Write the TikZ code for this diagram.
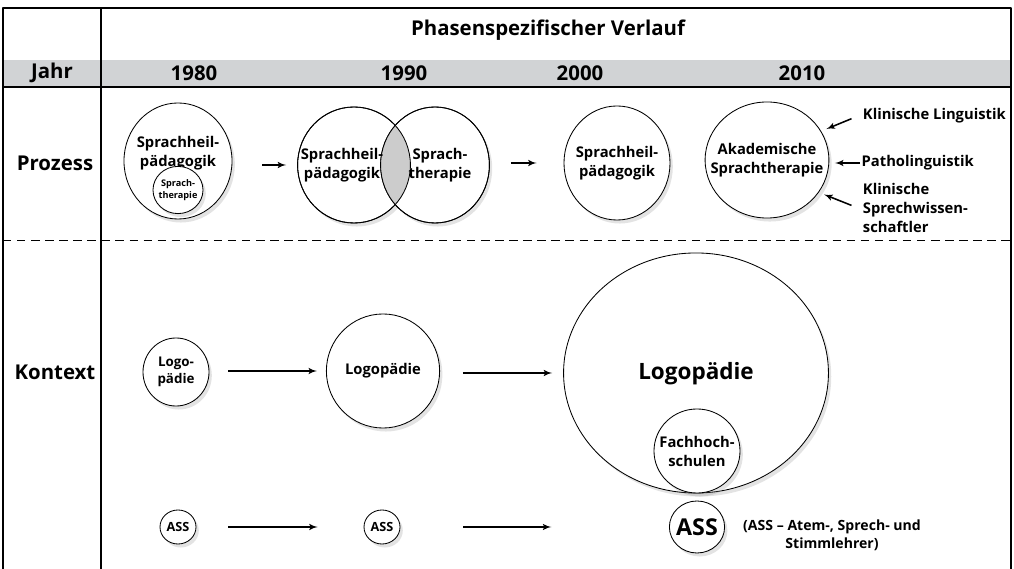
\documentclass[tikz,border=0pt]{standalone}
\usepackage{fontspec}
\setmainfont{Open Sans}
\usepackage{tikz}
\usetikzlibrary{arrows, positioning, shapes, shadows}
\definecolor{bandgray}{rgb}{0.82, 0.827, 0.835}
\definecolor{lensgray}{rgb}{0.8, 0.8, 0.8}

\begin{document}
\begin{tikzpicture}[>=latex', x=0.025cm, y=-0.025cm, line join=bevel,
        blob/.style={draw, ellipse, fill=white, inner sep=-9pt, align=center, line width=.6pt,
            drop shadow={opacity=.22, shadow xshift=2pt, shadow yshift=-2.5pt}},
        head/.style={font=\bfseries\fontsize{14.5}{16}\selectfont},
        txt/.style={font=\bfseries\fontsize{10.5}{13.5}\selectfont},
        arr/.style={->, line width=1.1pt}]
    \useasboundingbox (0,0) rectangle (1014,569);
    % frame and table head
    \fill[bandgray] (3,60) rectangle (1011,87);
    \draw[line width=.8pt] (3,569) -- (3,8) -- (1011,8) -- (1011,569);
    \draw[line width=1pt] (101,8) -- (101,569);
    \draw[line width=1.6pt] (3,87) -- (1011,87);
    \draw[dashed, dash pattern=on 6pt off 4pt, line width=.7pt] (3,240) -- (1011,240);
    \node[head] (title) at (548,30) {Phasenspezifischer Verlauf};
    \node[head] (jahr) at (52,73) {Jahr};
    \node[head] (y80) at (194,73) {1980};
    \node[head] (y90) at (404,73) {1990};
    \node[head] (y00) at (580,73) {2000};
    \node[head] (y10) at (802,73) {2010};
    \node[head] (prozess) at (55,163) {Prozess};
    \node[head] (kontext) at (55,372) {Kontext};

    % Prozess
    \node[blob, txt, minimum width=2.7cm, minimum height=2.9cm] (sh1) at (178,161)
        {\raisebox{14pt}{\shortstack{Sprachheil-\\p\"adagogik}}};
    \node[blob, font=\bfseries\fontsize{6.5}{8.5}\selectfont, minimum width=1.25cm, minimum height=1.18cm] (st1) at (178,190)
        {Sprach-\\therapie};
    \node[blob, minimum width=2.82cm, minimum height=2.9cm] (sh2) at (354,165) {};
    \node[blob, minimum width=2.72cm, minimum height=2.9cm] (st2) at (435,165) {};
    \begin{scope}
        \clip (sh2.center) ellipse [x radius=56.4, y radius=58];
        \fill[lensgray] (st2.center) ellipse [x radius=54.4, y radius=58];
    \end{scope}
    \draw[line width=.6pt] (sh2.center) ellipse [x radius=56.4, y radius=58];
    \draw[line width=.6pt] (st2.center) ellipse [x radius=54.4, y radius=58];
    \node[txt, align=center] (sh2txt) at (342,165) {Sprachheil-\\p\"adagogik};
    \node[txt, align=center] (st2txt) at (440,165) {Sprach-\\therapie};
    \node[blob, txt, minimum width=2.65cm, minimum height=2.85cm] (sh3) at (617,163) {Sprachheil-\\p\"adagogik};
    \node[blob, txt, minimum width=3cm, minimum height=2.9cm] (ak) at (767,160) {Akademische\\Sprachtherapie};
    \node[txt, anchor=west] (kling) at (858,116) {Klinische Linguistik};
    \node[txt, anchor=west, inner sep=1pt] (pling) at (860,163) {Patholinguistik};
    \node[txt, anchor=west, align=left] (kspr) at (858,208) {Klinische\\Sprechwissen-\\schaftler};
    \draw[arr, shorten <=30pt*.709, shorten >=11pt*.709] (sh1.east |- sh2.west) -- (sh2.west);
    \draw[arr, shorten <=21pt*.709, shorten >=27pt*.709] (st2.east |- sh3.west) -- (sh3.west);
    \draw[arr, shorten <=5pt, shorten >=4pt] (kling.west) -- (ak.28);
    \draw[arr, shorten >=4pt] (pling.west) -- (ak.east |- pling.west);
    \draw[arr, shorten <=5pt, shorten >=4pt] (kspr.west) -- (ak.-32);

    % Kontext
    \node[blob, font=\bfseries\fontsize{9.5}{12}\selectfont, minimum width=1.65cm, minimum height=1.7cm] (lg1) at (176,372) {Logo-\\p\"adie};
    \node[blob, txt, minimum width=2.83cm, minimum height=2.85cm] (lg2) at (383,371) {Logop\"adie};
    \node[blob, minimum width=6.62cm, minimum height=6cm] (lg3) at (696,373) {};
    \node[font=\bfseries\fontsize{16}{18}\selectfont] (lg3txt) at (696,374) {Logop\"adie};
    \node[blob, txt, minimum width=2.15cm, minimum height=2.1cm] (fh) at (697,451) {Fachhoch-\\schulen};
    \draw[arr, shorten <=19pt*.709, shorten >=9pt*.709] (lg1.east |- lg2.west) -- (lg2.west);
    \draw[arr, shorten <=23pt*.709, shorten >=11pt*.709] (lg2.east |- lg3.west) -- (lg3.west);

    \node[blob, font=\bfseries\fontsize{9}{10}\selectfont, minimum width=.9cm, minimum height=.85cm] (ass1) at (178,527) {ASS};
    \node[blob, font=\bfseries\fontsize{9}{10}\selectfont, minimum width=.9cm, minimum height=.85cm] (ass2) at (382,527) {ASS};
    \node[blob, font=\bfseries\fontsize{16.5}{18}\selectfont, minimum width=1.38cm, minimum height=1.3cm] (ass3) at (697,527) {ASS};
    \node[font=\bfseries\fontsize{10}{12.5}\selectfont, align=center] (assnote) at (832,535)
        {(ASS -- Atem-, Sprech- und\\Stimmlehrer)};
    \draw[arr, shorten <=32pt*.709, shorten >=46pt*.709] (ass1.east) -- (ass2.west);
    \draw[arr, shorten <=63pt*.709, shorten >=118pt*.709] (ass2.east) -- (ass3.west);
\end{tikzpicture}
\end{document}
